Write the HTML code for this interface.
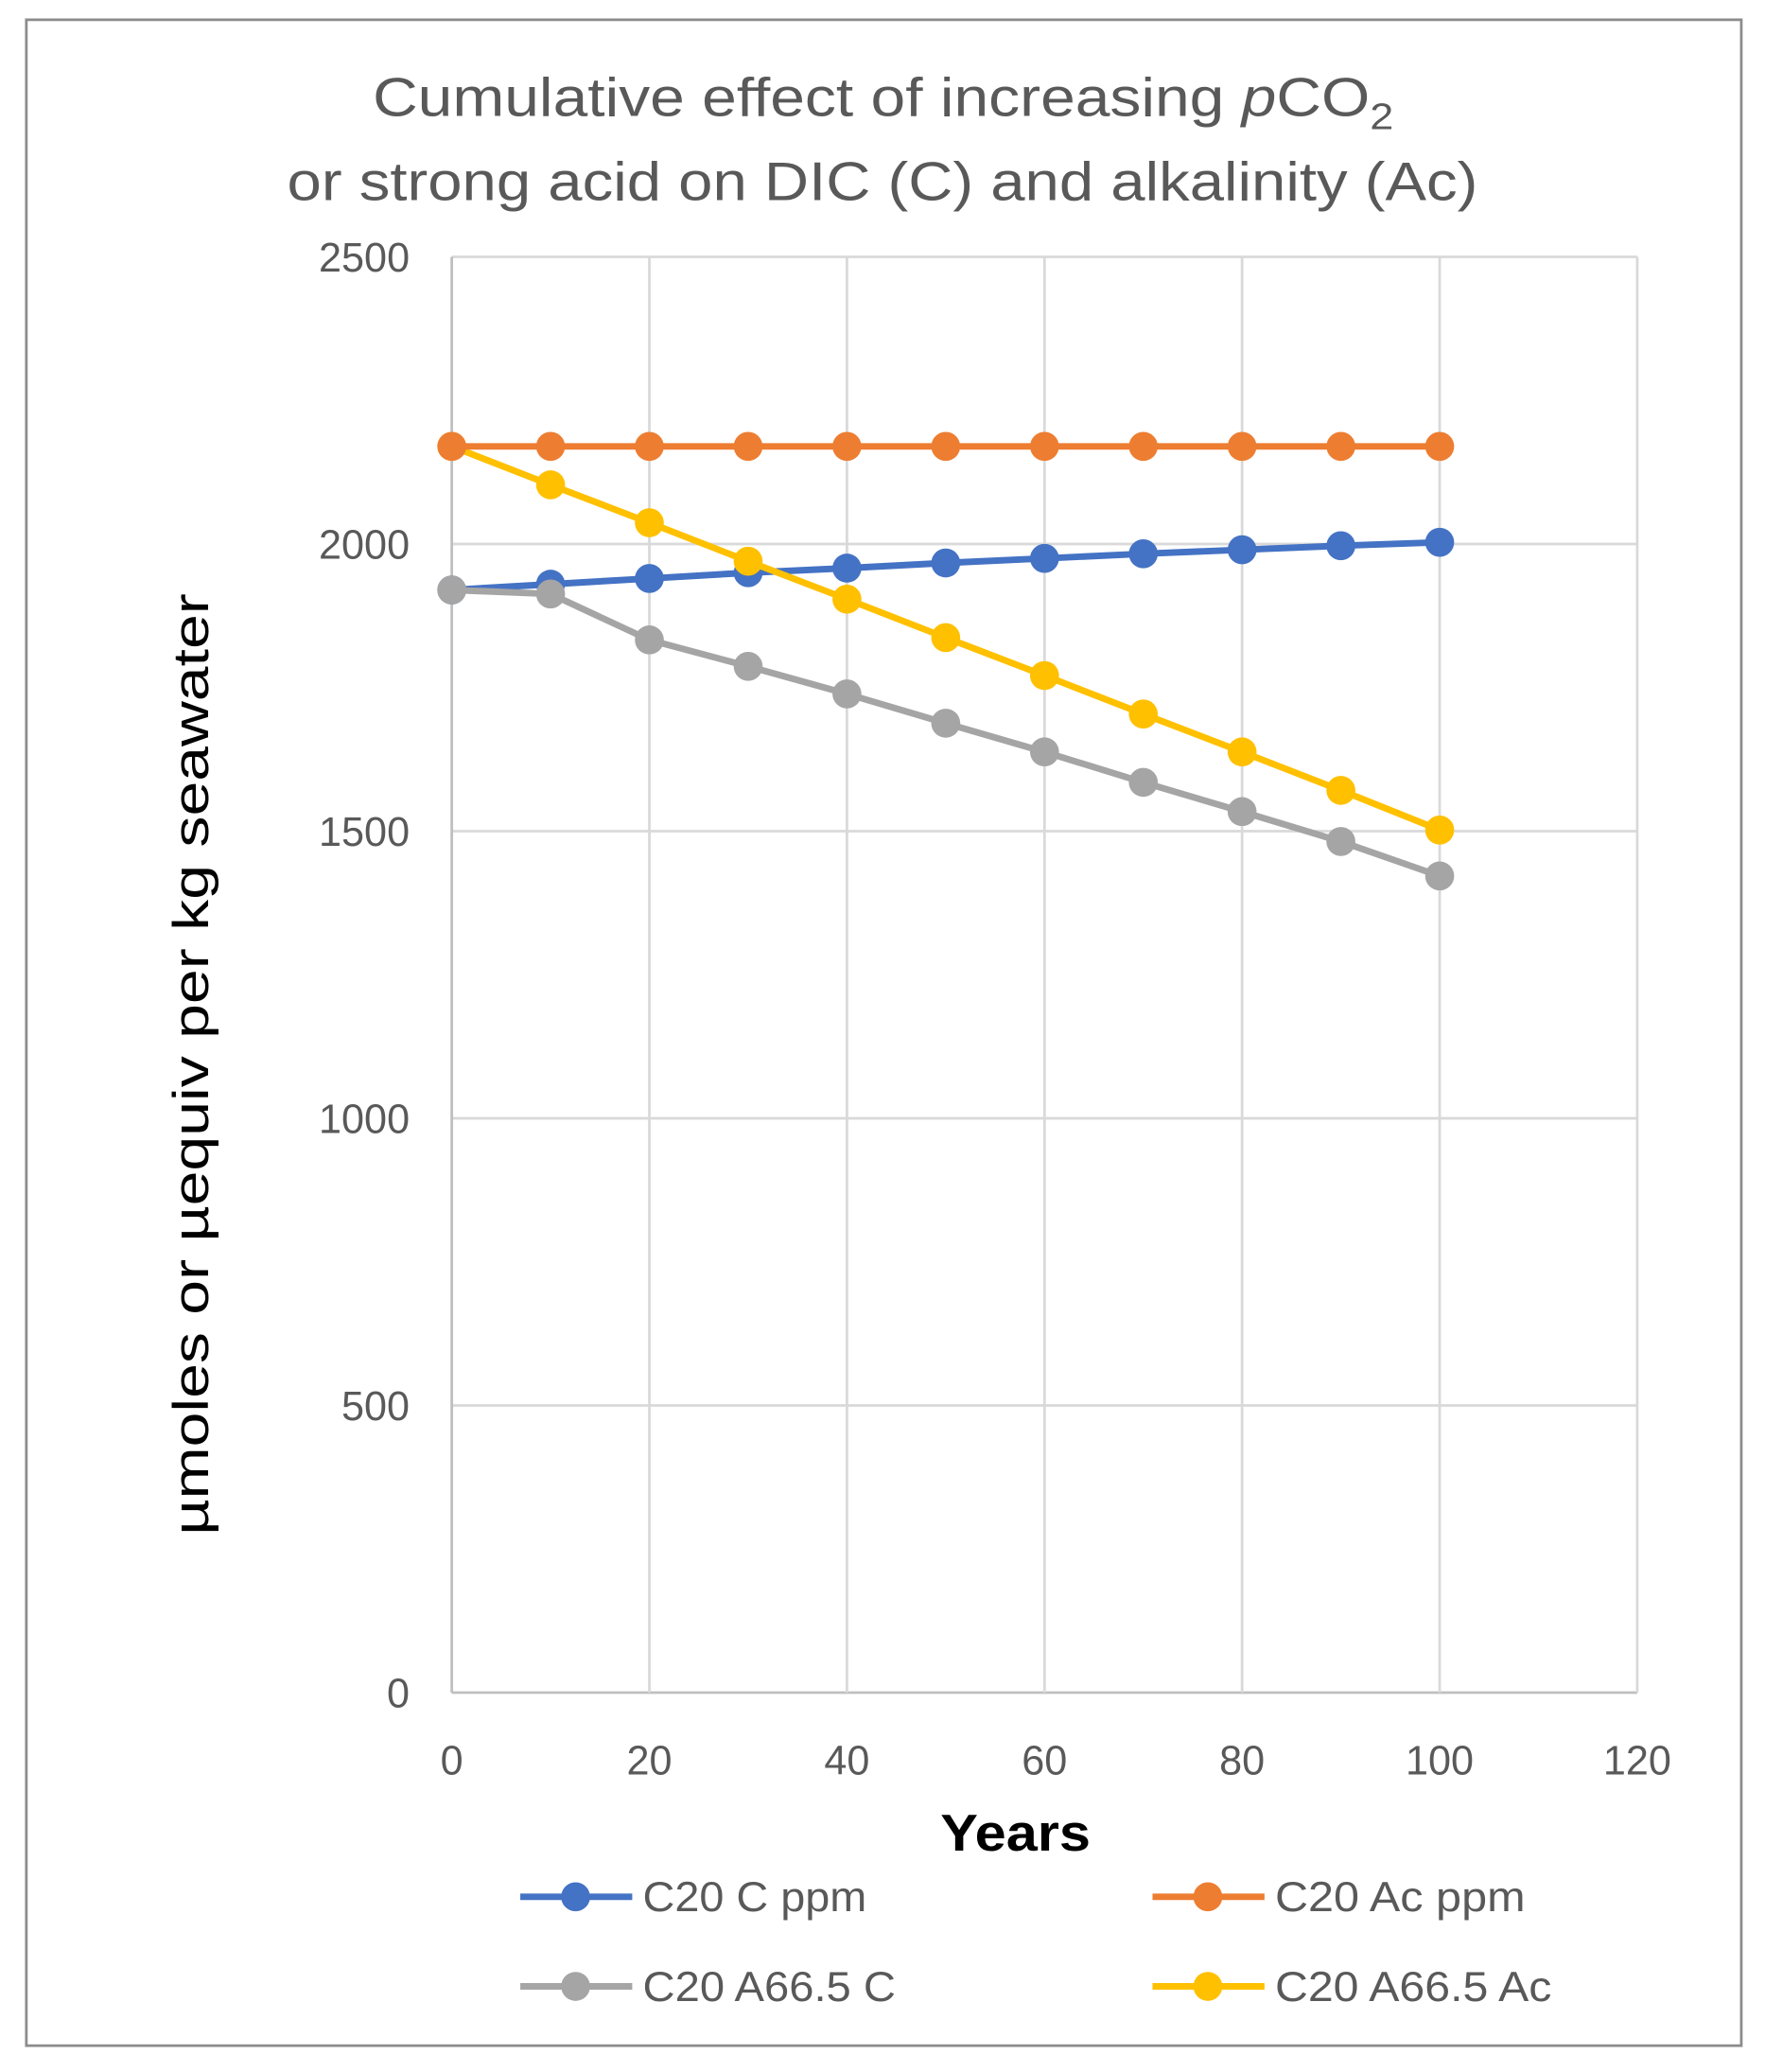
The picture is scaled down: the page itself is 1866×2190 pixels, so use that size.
<!DOCTYPE html>
<html><head><meta charset="utf-8"><style>
html,body{margin:0;padding:0;background:#fff;}
svg{display:block;font-family:"Liberation Sans",sans-serif;}
</style></head><body>
<svg id="chart" width="1866" height="2190" viewBox="0 0 1340 1573" preserveAspectRatio="none" xmlns="http://www.w3.org/2000/svg">
<rect x="20" y="15" width="1302" height="1538" fill="#fff" stroke="#8c8c8c" stroke-width="2"/>
<text x="283" y="88" font-size="41" fill="#595959" textLength="775" lengthAdjust="spacingAndGlyphs">Cumulative effect of increasing <tspan font-style="italic">p</tspan>CO<tspan font-size="28" dy="10">2</tspan></text>
<text x="670" y="152" text-anchor="middle" font-size="41" fill="#595959" textLength="904" lengthAdjust="spacingAndGlyphs">or strong acid on DIC (C) and alkalinity (Ac)</text>
<g id="grid"></g>
<g id="axes"></g>
<g id="series"></g>
<text transform="translate(158,808) rotate(-90)" text-anchor="middle" font-size="38" fill="#000" textLength="715" lengthAdjust="spacingAndGlyphs">µmoles or µequiv per kg seawater</text>
<text x="771" y="1405" text-anchor="middle" font-size="39" font-weight="bold" fill="#000" textLength="114" lengthAdjust="spacingAndGlyphs">Years</text>
<g id="legend"></g>
</svg>
<script>
const years=[0,10,20,30,40,50,60,70,80,90,100];
const seriesNames=["C20 C ppm","C20 Ac ppm","C20 A66.5 C","C20 A66.5 Ac"];
const c20C=[1920,1930,1940,1950,1958,1967,1975,1983,1990,1997,2003];
const c20Ac=[2170,2170,2170,2170,2170,2170,2170,2170,2170,2170,2170];
const a665C=[1920,1913,1833,1787,1739,1688,1638,1585,1534,1482,1422];
const a665Ac=[2170,2103,2037,1970,1904,1837,1771,1704,1638,1571,1502];
const xTicks=[0,20,40,60,80,100,120];
const yTicks=[0,500,1000,1500,2000,2500];
const colors=["#4472c4","#ed7d31","#a5a5a5","#ffc000"];
const legendWidths=[170,190,192,210];
const NS="http://www.w3.org/2000/svg";
const X0=343,X1=1243,Y0=1285,Y1=195;
function xs(v){return X0+(v-0)/(120-0)*(X1-X0);}
function ys(v){return Y0-(v-0)/(2500-0)*(Y0-Y1);}
function mk(tag,attrs,parent){const e=document.createElementNS(NS,tag);for(const k in attrs)e.setAttribute(k,attrs[k]);parent.appendChild(e);return e;}
const grid=document.getElementById('grid'),axes=document.getElementById('axes'),ser=document.getElementById('series'),leg=document.getElementById('legend');
yTicks.forEach(t=>{
  const l=mk('line',{x1:X0,x2:X1,y1:ys(t),y2:ys(t),stroke:t===0?'#bfbfbf':'#d9d9d9','stroke-width':2},grid);
  
  
  const tx=mk('text',{x:X0-32,y:ys(t)+11,'text-anchor':'end','font-size':31,fill:'#595959'},axes);
  tx.textContent=t;
  
  
});
xTicks.forEach(t=>{
  const l=mk('line',{x1:xs(t),x2:xs(t),y1:Y1,y2:Y0,stroke:t===0?'#bfbfbf':'#d9d9d9','stroke-width':2},grid);
  
  
  const tx=mk('text',{x:xs(t),y:Y0+62,'text-anchor':'middle','font-size':31,fill:'#595959'},axes);
  tx.textContent=t;
  
  
});
const allSeries=[c20C,c20Ac,a665C,a665Ac];
const order=[0,2,3,1];
order.forEach(i=>{
  const vals=allSeries[i];
  const g=mk('g',{},ser);
  
  
  const pts=years.map((y,j)=>xs(y)+','+ys(vals[j])).join(' ');
  const pl=mk('polyline',{points:pts,fill:'none',stroke:colors[i],'stroke-width':5},g);
  
  
  years.forEach((y,j)=>{
    const c=mk('circle',{cx:xs(y),cy:ys(vals[j]),r:11,fill:colors[i]},g);
    
    
  });
});
const legPos=[[395,1440],[875,1440],[395,1508],[875,1508]];
seriesNames.forEach((n,i)=>{
  const [lx,ly]=legPos[i];
  const g=mk('g',{},leg);
  
  
  mk('line',{x1:lx,x2:lx+85,y1:ly,y2:ly,stroke:colors[i],'stroke-width':5},g);
  mk('circle',{cx:lx+42,cy:ly,r:11,fill:colors[i]},g);
  const t=mk('text',{x:lx+93,y:ly+11,'font-size':32,fill:'#595959',textLength:legendWidths[i],lengthAdjust:'spacingAndGlyphs'},g);
  t.textContent=n;
});
</script>
</body></html>
